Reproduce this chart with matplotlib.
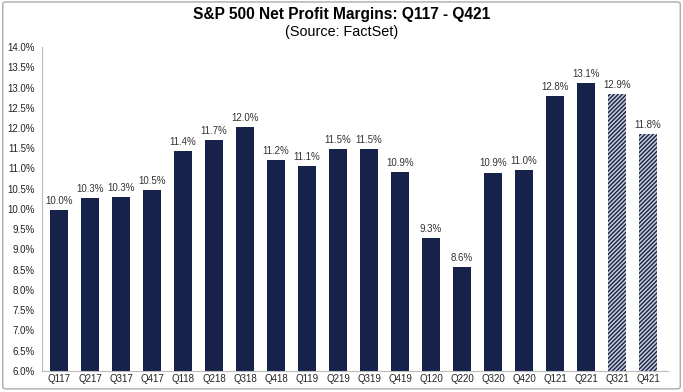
import matplotlib
matplotlib.use("Agg")
import matplotlib.pyplot as plt
from matplotlib.patches import FancyBboxPatch

plt.rcParams['font.family'] = ['Liberation Sans', 'DejaVu Sans']

# Data
quarters = ['Q117', 'Q217', 'Q317', 'Q417', 'Q118', 'Q218', 'Q318', 'Q418', 'Q119', 'Q219',
            'Q319', 'Q419', 'Q120', 'Q220', 'Q320', 'Q420', 'Q121', 'Q221', 'Q321', 'Q421']
margins = [9.97, 10.27, 10.30, 10.46, 11.43, 11.70, 12.02, 11.22, 11.06, 11.48,
           11.48, 10.92, 9.27, 8.57, 10.90, 10.97, 12.78, 13.10, 12.85, 11.85]
labels = ['10.0%', '10.3%', '10.3%', '10.5%', '11.4%', '11.7%', '12.0%', '11.2%', '11.1%', '11.5%',
          '11.5%', '10.9%', '9.3%', '8.6%', '10.9%', '11.0%', '12.8%', '13.1%', '12.9%', '11.8%']
estimate = [False] * 18 + [True, True]

navy = '#17224a'

fig = plt.figure(figsize=(6.83, 3.92), dpi=100)
ax = fig.add_axes([0.0615, 0.054, 0.917, 0.826])

for i, (v, est) in enumerate(zip(margins, estimate)):
    if est:
        ax.bar(i, v - 6, bottom=6, width=0.6, facecolor='#c9ccd6', edgecolor=navy,
               hatch='////////', linewidth=0)
    else:
        ax.bar(i, v - 6, bottom=6, width=0.6, color=navy)
    ax.text(i, v + 0.1, labels[i], ha='center', va='bottom', fontsize=7, color='#333333')

ax.set_ylim(6, 14)
ax.set_xlim(-0.55, 19.65)
ax.set_yticks([6 + 0.5 * k for k in range(17)])
ax.set_yticklabels([f'{6 + 0.5 * k:.1f}%' for k in range(17)], fontsize=7)
ax.set_xticks(range(len(quarters)))
ax.set_xticklabels(quarters, fontsize=7)
ax.tick_params(axis='y', length=0, pad=5, colors='#222222')
ax.tick_params(axis='x', length=0, pad=2, colors='#222222')
for s in ['top', 'right']:
    ax.spines[s].set_visible(False)
for s in ['left', 'bottom']:
    ax.spines[s].set_color('#bbbbbb')

fig.text(0.5, 0.962, 'S&P 500 Net Profit Margins: Q117 - Q421', ha='center', va='center',
         fontsize=11.2, fontweight='bold')
fig.text(0.5, 0.918, '(Source: FactSet)', ha='center', va='center', fontsize=10.4)

# border around the chart
fig.patches.append(FancyBboxPatch((0.004, 0.008), 0.992, 0.987, boxstyle='round,pad=0,rounding_size=0.005',
                                  transform=fig.transFigure, fill=False, edgecolor='#aaaaaa', linewidth=1))

fig.savefig('out.png', dpi=100)
